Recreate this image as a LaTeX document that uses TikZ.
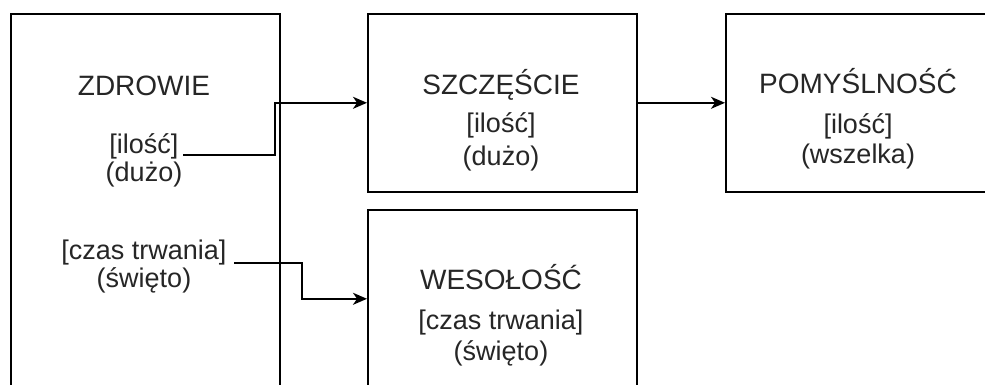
\documentclass[tikz,border=0pt]{standalone}
\usepackage{fontspec}
\setmainfont{Liberation Sans}
\usetikzlibrary{arrows.meta}
\begin{document}
\begin{tikzpicture}[x=1pt,y=-1pt,
  box/.style={draw=black, line width=1.6pt, fill=white, anchor=north west, inner sep=0pt, minimum height=178pt},
  ttl/.style={anchor=base, inner sep=0pt, text=black!85, font=\fontsize{28}{34}\selectfont},
  sub/.style={anchor=base, inner sep=0pt, text=black!85, font=\fontsize{27}{32}\selectfont},
  arr/.style={draw=black, line width=1.6pt, -{Stealth[length=14pt,width=12pt,inset=4pt]}},
  ln/.style={draw=black, line width=1.6pt}]
\clip (0,0) rectangle (985,384);
\fill[white] (0,0) rectangle (985,384);
% boxes
\node[box, minimum width=269pt, minimum height=420pt] (zdrowie) at (10,13) {};
\node[box, minimum width=269pt] (szczescie) at (367,13) {};
\node[box, minimum width=300pt] (pomysl) at (725,13) {};
\node[box, minimum width=269pt] (wesol) at (367,209) {};
% ZDROWIE texts
\node[ttl] (zt) at (144,95) {ZDROWIE};
\node[sub] (zq) at (144,153) {[ilość]};
\node[sub] (zqv) at (144,181) {(dużo)};
\node[sub] (zc) at (144,259) {[czas trwania]};
\node[sub] (zcv) at (144,287) {(święto)};
% SZCZESCIE texts
\node[ttl] (st) at (501,94) {SZCZĘŚCIE};
\node[sub] (sq) at (501,132) {[ilość]};
\node[sub] (sqv) at (501,165) {(dużo)};
% POMYSLNOSC texts
\node[ttl] (pt) at (858,93) {POMYŚLNOŚĆ};
\node[sub] (pq) at (858,133) {[ilość]};
\node[sub] (pqv) at (858,163) {(wszelka)};
% WESOLOSC texts
\node[ttl] (wt) at (501,289) {WESOŁOŚĆ};
\node[sub] (wc) at (501,329) {[czas trwania]};
\node[sub] (wcv) at (501,360) {(święto)};
% connectors
\coordinate (c1) at (183,155);
\coordinate (c2) at (234,263);
\draw[arr] (c1) -- (275,155) |- (szczescie.west);
\draw[arr] (c2) -- (302,263) |- (wesol.west);
\draw[arr] (szczescie.east) -- (pomysl.west);
\end{tikzpicture}
\end{document}
